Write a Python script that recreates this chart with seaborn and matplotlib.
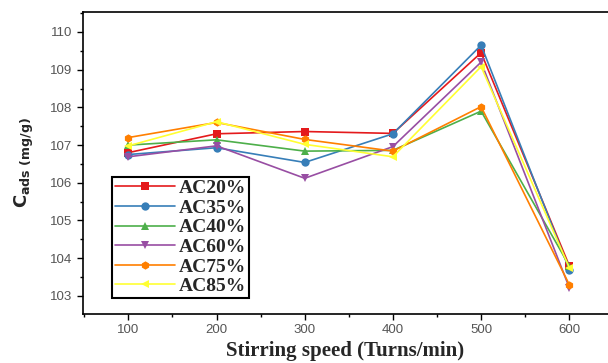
import matplotlib
matplotlib.use("Agg")
import matplotlib.pyplot as plt
from matplotlib.ticker import MultipleLocator
import seaborn as sns
import pandas as pd

speeds = [100, 200, 300, 400, 500, 600]
ac20 = [106.80, 107.30, 107.36, 107.31, 109.45, 103.80]
ac35 = [106.75, 106.93, 106.54, 107.30, 109.65, 103.70]
ac40 = [107.00, 107.14, 106.84, 106.86, 107.90, 103.80]
ac60 = [106.69, 106.98, 106.12, 106.96, 109.20, 103.22]
ac75 = [107.20, 107.60, 107.15, 106.84, 108.02, 103.30]
ac85 = [106.98, 107.62, 107.02, 106.69, 109.08, 103.75]
labels = ["AC20%", "AC35%", "AC40%", "AC60%", "AC75%", "AC85%"]
series = [ac20, ac35, ac40, ac60, ac75, ac85]

rows = []
for lab, vals in zip(labels, series):
    for s, v in zip(speeds, vals):
        rows.append({"speed": s, "cads": v, "sample": lab})
df = pd.DataFrame(rows)

sns.set_style("ticks")
plt.rcParams['font.family'] = ['Liberation Sans', 'DejaVu Sans']

colors = ["#e41a1c", "#377eb8", "#4daf4a", "#984ea3", "#ff7f00", "#ffff33"]
markers = ["s", "o", "^", "v", "h", "<"]

fig = plt.figure(figsize=(6.08, 3.63), dpi=100)
ax = fig.add_axes([83/608, 49/363, 525/608, 302/363])

sns.lineplot(data=df, x="speed", y="cads", hue="sample", style="sample",
             palette=dict(zip(labels, colors)),
             markers=dict(zip(labels, markers)), dashes=False,
             markersize=6, markeredgewidth=0, linewidth=1.2, ax=ax)

ax.set_xlim(48.6, 643.9)
ax.set_ylim(102.52, 110.53)
ax.xaxis.set_major_locator(MultipleLocator(100))
ax.xaxis.set_minor_locator(MultipleLocator(50))
ax.yaxis.set_major_locator(MultipleLocator(1))
ax.yaxis.set_minor_locator(MultipleLocator(0.5))
ax.tick_params(which="major", direction="out", length=4, width=1, colors="black",
               labelcolor="#555555", labelsize=9.5)
ax.tick_params(which="minor", direction="out", length=2.5, width=1, colors="black")
for side in ["left", "bottom", "top"]:
    ax.spines[side].set_visible(True)
    ax.spines[side].set_color("black")
    ax.spines[side].set_linewidth(1.2)
ax.spines["right"].set_visible(False)

ax.set_xlabel("Stirring speed (Turns/min)", family="Liberation Serif",
              fontweight="bold", fontsize=15, labelpad=3)
ax.set_ylabel(r"$\mathbf{C}_{\mathbf{ads}\ \mathbf{(mg/g)}}$", fontsize=13, labelpad=10)

handles, labs = ax.get_legend_handles_labels()
leg = ax.legend(handles, labs, loc="lower left", bbox_to_anchor=(0.055, 0.053),
                borderaxespad=0, frameon=True, fancybox=False, framealpha=1,
                edgecolor="black", handlelength=3.1, handletextpad=0.2,
                labelspacing=0.1, borderpad=0.15,
                prop={"family": "Liberation Serif", "weight": "bold", "size": 14})
leg.get_frame().set_linewidth(1.5)

fig.savefig("out.png", dpi=100)
